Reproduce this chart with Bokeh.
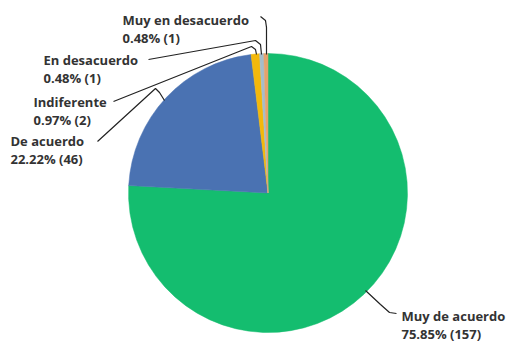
import numpy as np
from bokeh.plotting import figure
from bokeh.models import ColumnDataSource, Range1d
from bokeh.core.properties import value
from bokeh.embed import file_html
from bokeh.resources import INLINE

# ---- data ----
categories = ["Muy de acuerdo", "De acuerdo", "Indiferente", "En desacuerdo", "Muy en desacuerdo"]
counts = [157, 46, 2, 1, 1]
colors = ["#14bd6f", "#4a72b2", "#f3b80b", "#a5bdcb", "#e5a36d"]

# ---- layout (screen pixel coords, y downwards) ----
W, H = 507, 345
center_px = (267.5, 192.5)
radius_px = 139.5
# label anchors (left x, center y of first line)
label_pos = [(401, 315), (10, 140), (33, 101), (43, 59), (122, 19)]
line_gap = 18
# leader line paths
leaders = [
    [(365, 290), (380, 304), (389, 312), (396, 313)],
    [(164, 100), (159, 92), (155, 88), (97, 141)],
    [(256, 54), (255, 49), (251, 46), (113, 101)],
    [(261, 54), (260, 44), (255, 40), (148, 59)],
    [(266, 54), (266, 27), (265, 20), (260, 16)],
]

def X(sx):
    return sx
def Y(sy):
    return H - sy  # flip so y grows upward

p = figure(width=W, height=H, output_backend="svg", toolbar_location=None,
           x_range=Range1d(0, W), y_range=Range1d(0, H),
           min_border=0)
p.axis.visible = False
p.grid.visible = False
p.outline_line_color = None
p.background_fill_color = "white"
p.border_fill_color = "white"

vals = np.array(counts, dtype=float)
frac = vals / vals.sum()
cum = np.concatenate([[0], np.cumsum(frac)])
start = np.pi / 2 - 2 * np.pi * cum[:-1]
end = np.pi / 2 - 2 * np.pi * cum[1:]

src = ColumnDataSource(dict(x=[X(center_px[0])] * len(counts),
                            y=[Y(center_px[1])] * len(counts),
                            start=start, end=end, color=colors))
p.wedge(x="x", y="y", radius=radius_px, start_angle="start", end_angle="end",
        direction="clock", fill_color="color", line_color="color", line_width=0.5,
        source=src)

for path in leaders:
    p.line([X(a) for a, b in path], [Y(b) for a, b in path], line_color="#222222", line_width=1.2)

names_x, names_y, names_t = [], [], []
pct_x, pct_y, pct_t = [], [], []
for cat, c, f, (lx, ly) in zip(categories, counts, frac, label_pos):
    names_x.append(X(lx)); names_y.append(Y(ly)); names_t.append(cat)
    pct_x.append(X(lx)); pct_y.append(Y(ly + line_gap)); pct_t.append(f"{f*100:.2f}% ({c})")

for xs, ys, ts in [(names_x, names_y, names_t), (pct_x, pct_y, pct_t)]:
    p.text(x=xs, y=ys, text=ts, text_font=value("Open Sans"), text_font_style="bold",
           text_font_size="13px", text_color="#333333", text_align="left",
           text_baseline="middle")

open("out.html", "w").write(file_html(p, INLINE))
